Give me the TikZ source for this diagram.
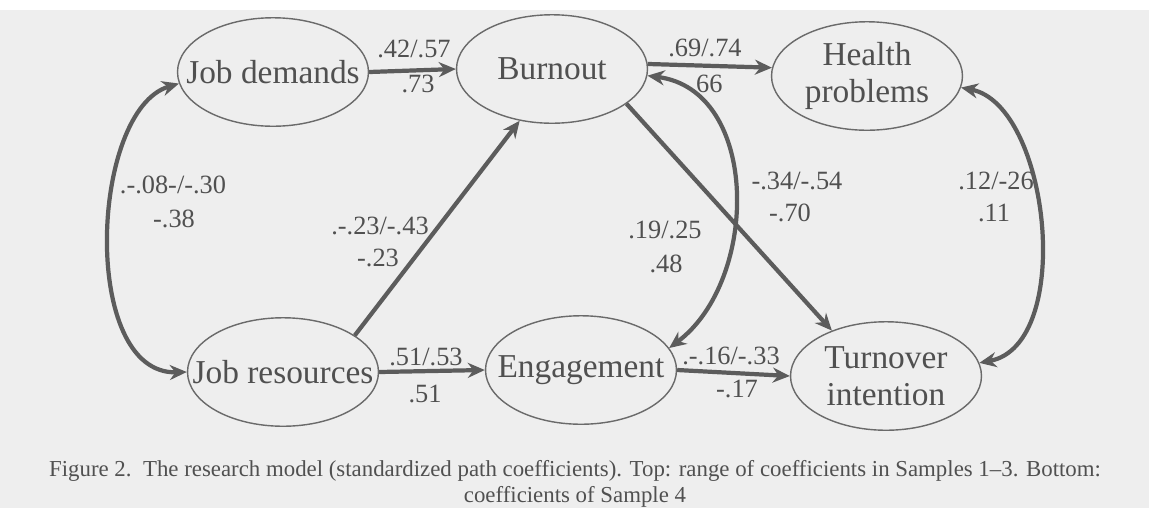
\documentclass[tikz,border=0pt]{standalone}
\usepackage{fontspec}
\setmainfont{Liberation Serif}
\usetikzlibrary{shapes.geometric, arrows.meta}

\definecolor{inkgray}{HTML}{505050}
\definecolor{linegray}{HTML}{6A6A6A}
\definecolor{arrowgray}{HTML}{5C5C5C}
\definecolor{paper}{HTML}{EEEEEE}

\begin{document}
\begin{tikzpicture}[x=0.02cm, y=-0.02cm,
	factor/.style={ellipse, draw=linegray, line width=0.8pt, minimum width=3.82cm, minimum height=2.17cm, inner sep=0pt},
	ftext/.style={text=inkgray, align=center, inner sep=0pt, font=\fontsize{19}{21}\selectfont},
	effect/.style={draw=arrowgray, line width=2.4pt, -{Stealth[length=0.34cm, width=0.3cm]}},
	covar/.style={effect, {Stealth[length=0.34cm, width=0.3cm]}-{Stealth[length=0.34cm, width=0.3cm]}},
	coef/.style={text=inkgray, inner sep=0pt, font=\fontsize{15}{17}\selectfont}]
	
	%\draw[help lines] (0,0) grid[step=50] (1149,508);
	\useasboundingbox (0,0) rectangle (1149,508);
	\fill[paper] (0,10) rectangle (1149,508);
	
	\node[factor, label={[ftext]center:Job demands}] (jd) at (273,72) {};
	\node[factor, label={[ftext]center:Burnout}] (bo) at (552,69) {};
	\node[factor, label={[ftext]center:Health\\problems}] (hp) at (867,76) {};
	\node[factor, label={[ftext]center:Job resources}] (jr) at (283,372) {};
	\node[factor, label={[ftext]center:Engagement}] (en) at (581,370) {};
	\node[factor, label={[ftext]center:Turnover\\intention}] (ti) at (886,376) {};
	
	\node[coef] (c-jdbo-t) at (414,49) {.42/.57}; % demands -> burnout
	\node[coef] (c-jdbo-b) at (418,84) {.73};
	\node[coef] (c-bohp-t) at (705,48) {.69/.74}; % burnout -> health
	\node[coef] (c-bohp-b) at (706,84) {.66};
	\node[coef] (c-enbo-t) at (665,230) {.19/.25}; % engagement <-> burnout
	\node[coef] (c-enbo-b) at (666,264) {.48};
	\node[coef] (c-boti-t) at (797,181) {-.34/-.54}; % burnout -> turnover
	\node[coef] (c-boti-b) at (790,213) {-.70};
	\node[coef] (c-hpti-t) at (996,181) {.12/-26}; % health <-> turnover
	\node[coef] (c-hpti-b) at (994,213) {.11};
	\node[coef] (c-jdjr-t) at (173,185) {.-.08-/-.30}; % demands <-> resources
	\node[coef] (c-jdjr-b) at (174,219) {-.38};
	\node[coef] (c-jrbo-t) at (380,226) {.-.23/-.43}; % resources -> burnout
	\node[coef] (c-jrbo-b) at (378,258) {-.23};
	\node[coef] (c-jren-t) at (426,357) {.51/.53}; % resources -> engagement
	\node[coef] (c-jren-b) at (425,394) {.51};
	\node[coef] (c-enti-t) at (731,356) {.-.16/-.33}; % engagement -> turnover
	\node[coef] (c-enti-b) at (737,389) {-.17};
	
	\draw[effect] (jd.east) -- (bo.west);
	\draw[effect] (bo.3) -- (hp.175);
	\draw[effect] (bo.-25) -- (ti.140);
	\draw[effect] (jr.27) -- (bo.-122);
	\draw[effect] (jr.east) -- (en.west);
	\draw[effect] (en.east) -- (ti.west);
	
	\draw[covar] (en.14) .. controls (760,280) and (760,90) .. (bo.-4);
	\draw[covar] (jd.187) .. controls (90,110) and (80,375) .. (jr.west);
	\draw[covar] (hp.-7) .. controls (1050,105) and (1075,345) .. (ti.8);
	
	\node[text=inkgray, font=\fontsize{13}{15}\selectfont, align=center] (caption) at (575,484) {Figure 2.\ \ The research model (standardized path coefficients). Top: range of coefficients in Samples 1--3. Bottom:\\coefficients of Sample 4};

\end{tikzpicture}
\end{document}
